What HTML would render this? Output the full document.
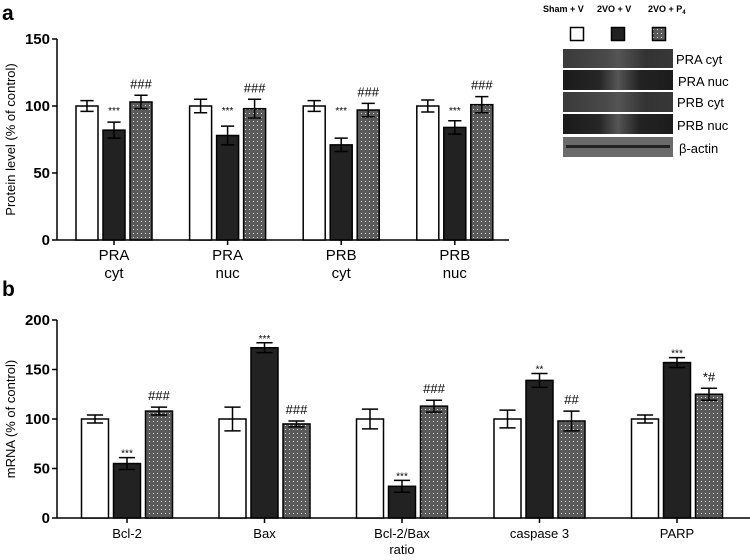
<!DOCTYPE html>
<html><head><meta charset="utf-8"><style>
html,body{margin:0;padding:0;background:#fff;width:750px;height:560px;overflow:hidden;font-family:"Liberation Sans",sans-serif}
svg text{font-family:"Liberation Sans",sans-serif}
</style></head><body>
<svg id="fig" width="750" height="560" viewBox="0 0 750 560" xmlns="http://www.w3.org/2000/svg">
<defs>
<pattern id="dots" width="4" height="4" patternUnits="userSpaceOnUse">
<rect width="4" height="4" fill="#5a5a5a"/><rect x="1" y="1" width="1" height="1" fill="#ddd"/>
</pattern>
<linearGradient id="bandg" x1="0" x2="1">
<stop offset="0" stop-color="#1a1a1a"/><stop offset="0.33" stop-color="#262626"/><stop offset="0.5" stop-color="#555"/><stop offset="0.7" stop-color="#222"/><stop offset="1" stop-color="#1c1c1c"/>
</linearGradient>
<linearGradient id="bandg2" x1="0" x2="1">
<stop offset="0" stop-color="#3a3a3a"/><stop offset="0.4" stop-color="#4a4a4a"/><stop offset="0.5" stop-color="#555"/><stop offset="0.75" stop-color="#333"/><stop offset="1" stop-color="#383838"/>
</linearGradient>
</defs>
<text x="2" y="20" font-size="21" font-weight="bold">a</text>
<text x="2" y="296" font-size="21" font-weight="bold">b</text>
<g id="chartA"></g>
<g id="chartB"></g>
<g id="blot">
<text x="543" y="12" font-size="9" font-weight="bold">Sham + V</text>
<text x="597" y="12" font-size="9" font-weight="bold">2VO + V</text>
<text x="648" y="12" font-size="9" font-weight="bold">2VO + P<tspan font-size="6" dy="2">4</tspan></text>
<rect x="570.5" y="27.5" width="13" height="13" fill="#fff" stroke="#000" stroke-width="1.5"/>
<rect x="611.5" y="27.5" width="13" height="13" fill="#222" stroke="#000" stroke-width="1.5"/>
<rect x="652.5" y="27.5" width="13" height="13" fill="url(#dots)" stroke="#000" stroke-width="1.5"/>
<rect x="563" y="49" width="110" height="19" fill="url(#bandg2)"/>
<rect x="563" y="70" width="110" height="20" fill="url(#bandg)"/>
<rect x="563" y="92" width="110" height="20" fill="url(#bandg2)"/>
<rect x="563" y="114" width="110" height="20" fill="url(#bandg)"/>
<rect x="563" y="137" width="110" height="20" fill="#6a6a6a"/>
<rect x="566" y="145" width="104" height="3" fill="#222"/>
<text x="676" y="64" font-size="13">PRA cyt</text>
<text x="678" y="86" font-size="13">PRA nuc</text>
<text x="677" y="107" font-size="13">PRB cyt</text>
<text x="677" y="130" font-size="13">PRB nuc</text>
<text x="679" y="153" font-size="13">β-actin</text>
</g>
</svg>
<script>
// Panel a data
const catsA = [["PRA","cyt"],["PRA","nuc"],["PRB","cyt"],["PRB","nuc"]];
const shamA = [100,100,100,100];
const shamErrA = [4,5,4,4.5];
const vA = [82,78,71,84];
const vErrA = [6,7,5,5];
const p4A = [103,98,97,101];
const p4ErrA = [5,7,5,6];
const starsA = ["***","***","***","***"];
const hashA = ["###","###","###","###"];
const ticksA = [0,50,100,150];
// Panel b data
const catsB = [["Bcl-2"],["Bax"],["Bcl-2/Bax","ratio"],["caspase 3"],["PARP"]];
const shamB = [100,100,100,100,100];
const shamErrB = [4,12,10,9,4];
const vB = [55,172,32,139,157];
const vErrB = [6,5,6,7,5];
const p4B = [108,95,113,98,125];
const p4ErrB = [4,3,6,10,6];
const starsB = ["***","***","***","**","***"];
const hashB = ["###","###","###","##","*#"];
const ticksB = [0,50,100,150,200];

const NS="http://www.w3.org/2000/svg";
function mk(tag,attrs,parent){const e=document.createElementNS(NS,tag);for(const k in attrs)e.setAttribute(k,attrs[k]);parent.appendChild(e);return e;}

function draw(g,cfg){
  const {cats,sham,shamErr,v,vErr,p4,p4Err,stars,hash,ticks,max,x0,x1,yTop,yBot,c0,step,bw,bstep,title,tickFs,catFs,annFs} = cfg;
  const y = val => yBot - val/max*(yBot-yTop);
  const xc = i => c0 + i*step;
  const ax = mk('line',{x1:x0,y1:yTop,x2:x0,y2:yBot,stroke:'#000','stroke-width':1.5},g);
  
  
  const bx = mk('line',{x1:x0,y1:yBot,x2:x1,y2:yBot,stroke:'#000','stroke-width':1.5},g);
  
  
  ticks.forEach(t=>{
    mk('line',{x1:x0-5,y1:y(t),x2:x0,y2:y(t),stroke:'#000','stroke-width':1.5},g);
    const tx=mk('text',{x:x0-7,y:y(t)+5,'font-size':tickFs,'font-weight':'bold','text-anchor':'end'},g);
    tx.textContent=t;
    
    
  });
  const yt=mk('text',{x:0,y:0,'font-size':13,'text-anchor':'middle',transform:`translate(15,${(yTop+yBot)/2}) rotate(-90)`},g);
  yt.textContent=title;
  
  
  const series=[[sham,shamErr,'#fff'],[v,vErr,'#222'],[p4,p4Err,'url(#dots)']];
  cats.forEach((c,i)=>{
    mk('line',{x1:xc(i),y1:yBot,x2:xc(i),y2:yBot+5,stroke:'#000','stroke-width':1.5},g);
    c.forEach((s,k)=>{
      const t=mk('text',{x:xc(i),y:yBot+20+k*(catFs+3),'font-size':catFs,'text-anchor':'middle'},g);
      t.textContent=s;
      
      
    });
    series.forEach((sr,j)=>{
      const val=sr[0][i],err=sr[1][i];
      const left=xc(i)+(j-1)*bstep-bw/2;
      const r=mk('rect',{x:left,y:y(val),width:bw,height:yBot-y(val),fill:sr[2],stroke:'#000','stroke-width':1.5},g);
      
      
      const cx=left+bw/2,hw=bw*0.3;
      mk('path',{d:`M${cx},${y(val+err)}V${y(val-err)}M${cx-hw},${y(val+err)}H${cx+hw}M${cx-hw},${y(val-err)}H${cx+hw}`,stroke:'#000','stroke-width':1.5,fill:'none'},g);
      let lab=null,top=y(val+err);
      if(j===1)lab=stars[i];
      if(j===2)lab=hash[i];
      if(lab){
        const isStar=/^\*+$/.test(lab);
        let ty=top-7;
        if(j===1 && cfg.starBeside && val<100){ty=Math.min(top-7, y(100)+2);}
        const a=mk('text',{x:cx,y:isStar?ty+6:ty,'font-size':isStar?annFs-3:annFs,'text-anchor':'middle'},g);
        a.textContent=lab;
        
        
      }
    });
  });
}
draw(document.getElementById('chartA'),{cats:catsA,sham:shamA,shamErr:shamErrA,v:vA,vErr:vErrA,p4:p4A,p4Err:p4ErrA,stars:starsA,hash:hashA,ticks:ticksA,max:150,x0:57,x1:509,yTop:39,yBot:240,c0:114,step:113.6,bw:22,bstep:27,title:'Protein level (% of control)',tickFs:15,catFs:15,annFs:13,starBeside:true});
draw(document.getElementById('chartB'),{cats:catsB,sham:shamB,shamErr:shamErrB,v:vB,vErr:vErrB,p4:p4B,p4Err:p4ErrB,stars:starsB,hash:hashB,ticks:ticksB,max:200,x0:57,x1:750,yTop:320,yBot:518,c0:127,step:137.5,bw:27,bstep:32,title:'mRNA (% of control)',tickFs:15,catFs:13,annFs:13,starBeside:false});
</script>
</body></html>
